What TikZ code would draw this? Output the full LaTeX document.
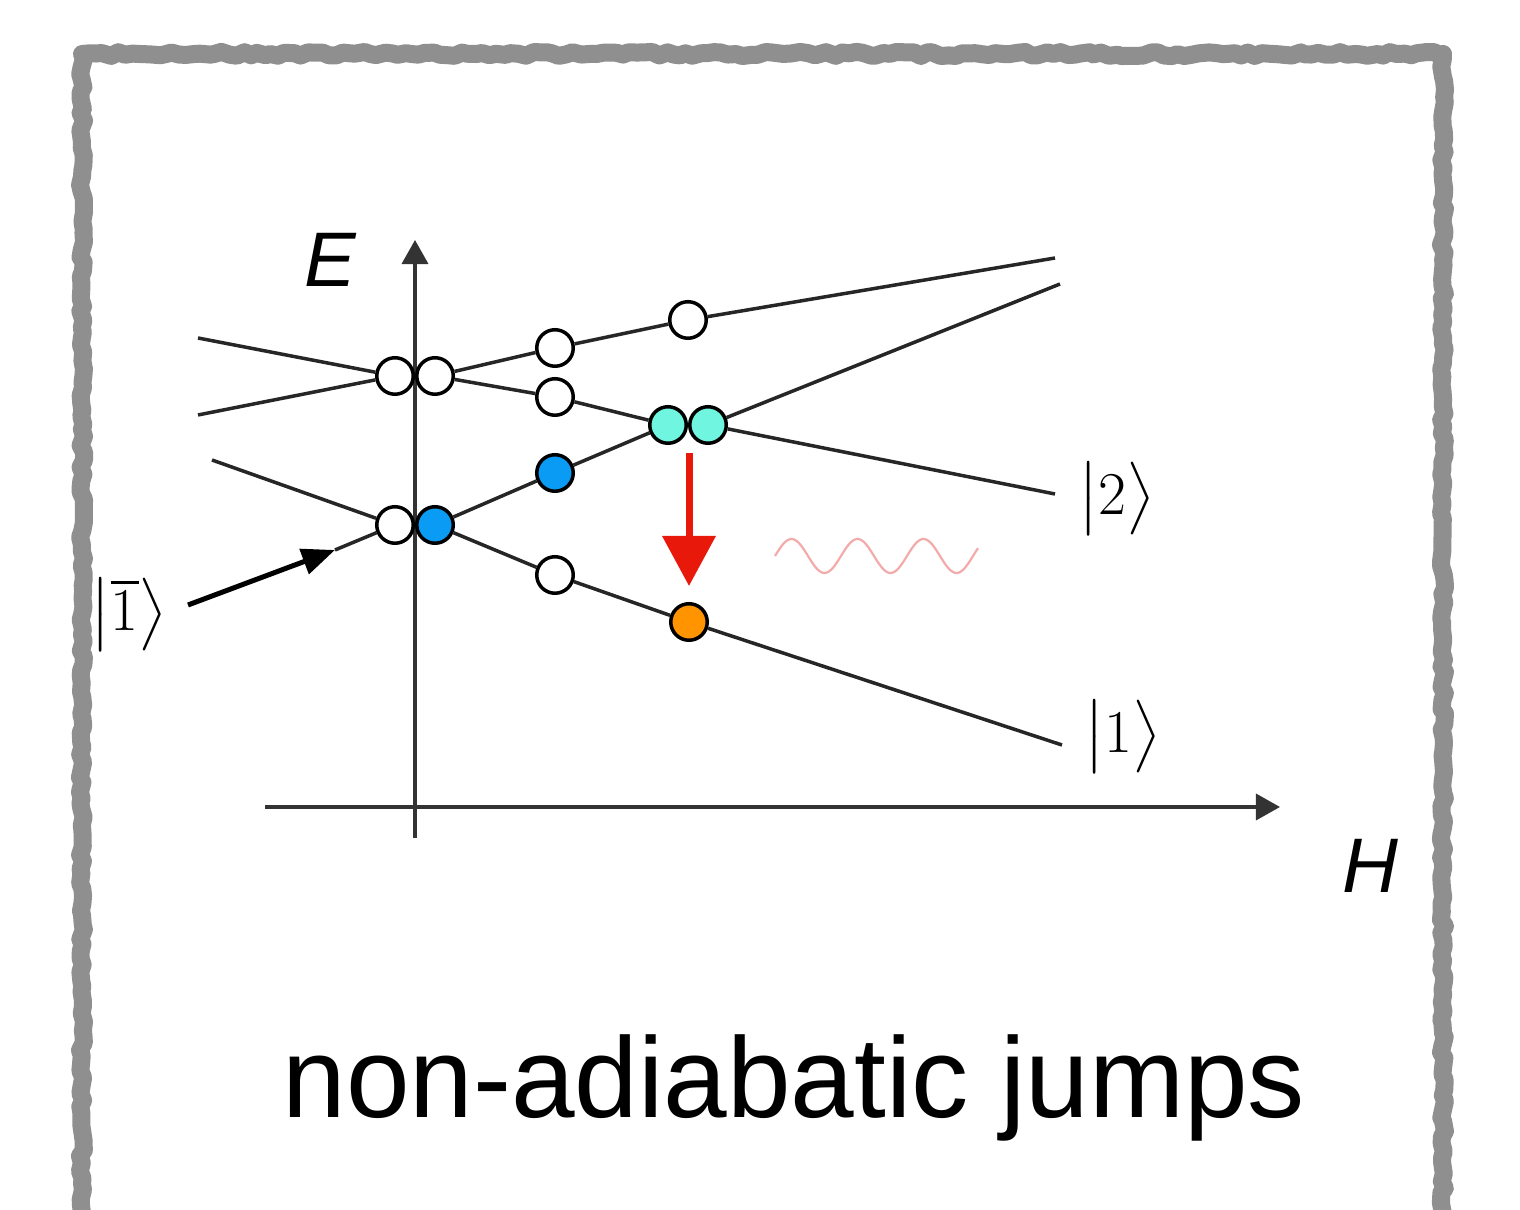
\documentclass[tikz,border=0pt]{standalone}
\usepackage[no-math]{fontspec}
\usepackage{amsmath}
\usetikzlibrary{arrows.meta, positioning, calc, decorations.pathmorphing}
\newfontfamily\helv{Liberation Sans}
\definecolor{framegray}{RGB}{143,143,143}
\definecolor{dotblue}{RGB}{10,155,245}
\definecolor{dotcyan}{RGB}{112,245,224}
\definecolor{dotorange}{RGB}{255,148,0}
\definecolor{jumpred}{RGB}{232,25,10}
\definecolor{wavepink}{RGB}{245,170,170}
\tikzstyle{frame} = [framegray, line width=0.18cm, line join=round, decorate, decoration={random steps, segment length=2pt, amplitude=0.6pt}]
\tikzstyle{eline} = [line width=0.035cm, black!85]
\tikzstyle{sdot} = [circle, draw, line width=0.035cm, fill=white, minimum size=0.365cm, inner sep=0pt]
\tikzstyle{axisarrow} = [line width=0.035cm, black!80, -{Triangle[length=0.24cm, width=0.26cm]}]
\tikzstyle{feed} = [line width=0.05cm, black, -{Triangle[length=0.33cm, width=0.26cm]}]
\tikzstyle{jump} = [line width=0.07cm, jumpred, -{Triangle[length=0.5cm, width=0.52cm]}]
\tikzstyle{wave} = [line width=0.022cm, wavepink]
\tikzstyle{ket} = [font=\fontsize{18}{20}\selectfont, inner sep=0pt]
\tikzstyle{axlabel} = [font=\helv\itshape\fontsize{22}{24}\selectfont, inner sep=0pt]

\begin{document}
\begin{tikzpicture}[x=0.01cm, y=-0.01cm]
  \clip (0,0) rectangle (1520,1210);
  \fill[white] (0,0) rectangle (1520,1210);
  \draw[frame] (82,1240) -- (82,54) -- (1443,54) -- (1443,1240);

  \coordinate (ybot) at (415,838);
  \coordinate (ytop) at (415,240);
  \coordinate (xleft) at (265,807);
  \coordinate (xright) at (1280,807);
  \draw[axisarrow] (ybot) -- (ytop);
  \draw[axisarrow] (xleft) -- (xright);
  \node[axlabel] (lE) at (330,260) {E};
  \node[axlabel] (lH) at (1370,866) {H};

  \node[sdot] (uL) at (395,376) {};
  \node[sdot, right=0pt of uL] (uR) {};
  \node[sdot] (u2a) at (555,348) {};
  \node[sdot] (u1a) at (555,397) {};
  \node[sdot] (u2b) at (688,320) {};
  \node[sdot, fill=dotcyan] (cL) at (668,425) {};
  \node[sdot, fill=dotcyan, right=0pt of cL] (cR) {};
  \node[sdot] (lL) at (395,525) {};
  \node[sdot, fill=dotblue, right=0pt of lL] (lR) {};
  \node[sdot, fill=dotblue] (b4a) at (555,473) {};
  \node[sdot] (w3a) at (555,575) {};
  \node[sdot, fill=dotorange] (orng) at (689,622) {};

  \coordinate (a1) at (198,338);
  \coordinate (a2) at (198,415);
  \coordinate (a3) at (212,460);
  \coordinate (a4) at (188,605);
  \coordinate (in) at (335,550);
  \coordinate (e1) at (1055,494);
  \coordinate (e2) at (1055,258);
  \coordinate (e3) at (1062,745);
  \coordinate (e4) at (1060,284);
  \coordinate (x2) at (689,425);

  \draw[eline] (a1) -- (uL);
  \draw[eline] (a2) -- (uL);
  \draw[eline] (uR) -- (u2a) -- (u2b) -- (e2);
  \draw[eline] (uR) -- (u1a) -- (cL);
  \draw[eline] (cR) -- (e1);
  \draw[eline] (a3) -- (lL);
  \draw[eline] (lR) -- (w3a) -- (orng) -- (e3);
  \draw[eline] (in) -- (lL);
  \draw[eline] (lR) -- (b4a) -- (cL);
  \draw[eline] (cR) -- (e4);
  \draw[feed] (a4) -- (in);

  \draw[jump, shorten <=0.28cm, shorten >=0.16cm] (x2) -- (orng);
  \draw[wave] plot[domain=775:978, samples=120, smooth] (\x, {556-17*sin((\x-775)*5.4545)});

  \node[ket] (k2) at (1117,499) {$\big|2\big\rangle$};
  \node[ket] (k1) at (1123,737) {$\big|1\big\rangle$};
  \node[ket] (k1b) at (129,615) {$\big|\overline{1}\big\rangle$};

  \node[font=\helv\fontsize{32.5}{36}\selectfont, inner sep=0pt] (cap) at (794,1088) {non-adiabatic jumps};
\end{tikzpicture}
\end{document}
